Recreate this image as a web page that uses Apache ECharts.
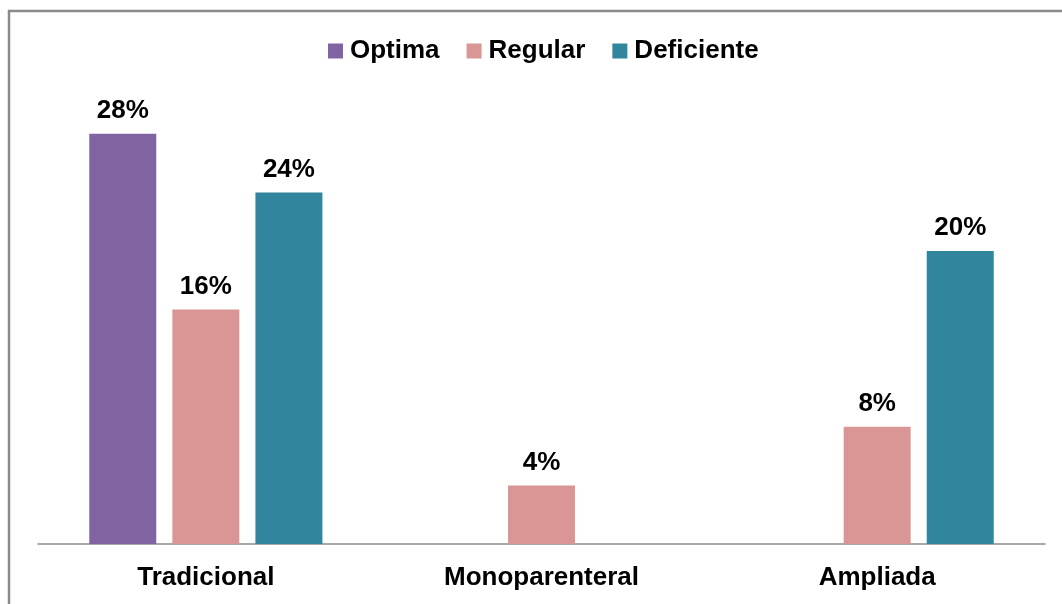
<!DOCTYPE html>
<html>
<head>
<meta charset="utf-8">
<style>
  html, body { margin: 0; padding: 0; background: #ffffff; }
  #chart { width: 1062px; height: 604px; }
</style>
<script src="https://cdn.jsdelivr.net/npm/echarts@6/dist/echarts.min.js"></script>
</head>
<body>
<div id="chart"></div>
<script>
// Family types on the x axis
const categories = ['Tradicional', 'Monoparenteral', 'Ampliada'];

// Percentages per rating (null = no bar for that family type)
const optima = [28, null, null];
const regular = [16, 4, 8];
const deficiente = [24, null, 20];

const seriesNames = ['Optima', 'Regular', 'Deficiente'];
const seriesColors = ['#8064A2', '#D99694', '#31859C'];

const FONT = '"Liberation Sans", Arial, sans-serif';

const chart = echarts.init(document.getElementById('chart'), null, { renderer: 'canvas' });

function barSeries(name, data, color) {
  return {
    name: name,
    type: 'bar',
    data: data,
    barWidth: 67,
    barGap: '24%',
    itemStyle: { color: color },
    label: {
      show: true,
      position: 'top',
      distance: 10,
      formatter: p => p.value + '%',
      color: '#000',
      fontFamily: FONT,
      fontWeight: 'bold',
      fontSize: 26
    }
  };
}

chart.setOption({
  animation: false,
  backgroundColor: '#ffffff',
  legend: {
    data: seriesNames,
    top: 33,
    left: 323,
    icon: 'rect',
    itemWidth: 15,
    itemHeight: 15,
    itemGap: 27,
    textStyle: { color: '#000', fontFamily: FONT, fontWeight: 'bold', fontSize: 26, padding: [0, 0, 0, 2] }
  },
  grid: { left: 38, right: 17, top: 104.5, bottom: 60, containLabel: false },
  xAxis: {
    type: 'category',
    data: categories,
    axisLine: { show: true, lineStyle: { color: '#8c8c8c', width: 1.5 } },
    axisTick: { show: false },
    axisLabel: { color: '#000', fontFamily: FONT, fontWeight: 'bold', fontSize: 26, margin: 21 }
  },
  yAxis: {
    type: 'value',
    min: 0,
    max: 30,
    show: false,
    splitLine: { show: false }
  },
  graphic: [{
    type: 'rect',
    shape: { x: 9, y: 11, width: 1200, height: 800 },
    style: { fill: null, stroke: '#8a8a8a', lineWidth: 2.5 },
    silent: true
  }],
  series: [
    barSeries(seriesNames[0], optima, seriesColors[0]),
    barSeries(seriesNames[1], regular, seriesColors[1]),
    barSeries(seriesNames[2], deficiente, seriesColors[2])
  ]
});
</script>
</body>
</html>
